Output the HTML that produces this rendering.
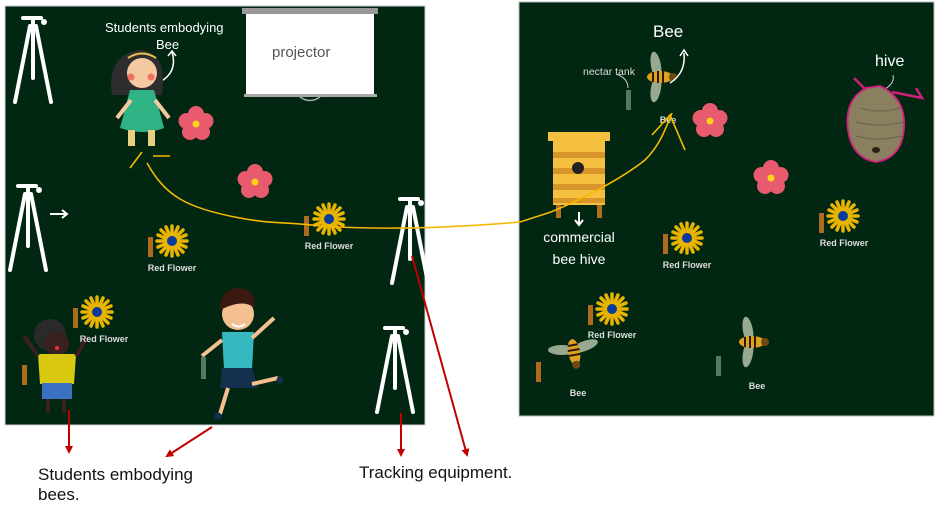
<!DOCTYPE html>
<html><head><meta charset="utf-8"><style>
html,body{margin:0;padding:0;background:#fff;}
svg{display:block;}
text{font-family:"Liberation Sans",sans-serif;}
</style></head><body>
<svg width="936" height="508" viewBox="0 0 936 508" xmlns="http://www.w3.org/2000/svg">
<defs>
<g id="tripod" stroke="#fff" stroke-width="4" fill="none" stroke-linecap="round">
  <line x1="-10" y1="0" x2="8" y2="0"/>
  <line x1="0" y1="0" x2="0" y2="60"/>
  <line x1="-3" y1="8" x2="-18" y2="84"/>
  <line x1="3" y1="8" x2="18" y2="84"/>
  <circle cx="11" cy="4" r="3" fill="#fff" stroke="none"/>
</g>
<g id="pink">
  <g fill="#e85a6e">
    <circle cx="0" cy="-10" r="8"/><circle cx="9.5" cy="-3" r="8"/><circle cx="6" cy="8" r="8"/><circle cx="-6" cy="8" r="8"/><circle cx="-9.5" cy="-3" r="8"/>
  </g>
  <circle r="3.5" fill="#ffd21a"/>
</g>
<g id="yel">
  <g stroke="#e8b400" stroke-width="3.5" stroke-linecap="round">
    <line x1="0" y1="-15" x2="0" y2="15"/><line x1="-15" y1="0" x2="15" y2="0"/>
    <line x1="-11" y1="-11" x2="11" y2="11"/><line x1="-11" y1="11" x2="11" y2="-11"/>
    <line x1="-6" y1="-14" x2="6" y2="14"/><line x1="6" y1="-14" x2="-6" y2="14"/>
    <line x1="-14" y1="-6" x2="14" y2="6"/><line x1="-14" y1="6" x2="14" y2="-6"/>
  </g>
  <circle r="5" fill="#0a3a9a"/>
</g>
<g id="bee">
  <ellipse cx="-2" cy="-12" rx="5" ry="14" fill="#a9b8a0" opacity="0.9" transform="rotate(-10)"/>
  <ellipse cx="-2" cy="12" rx="5" ry="14" fill="#a9b8a0" opacity="0.9" transform="rotate(10)"/>
  <ellipse cx="0" cy="0" rx="13" ry="6" fill="#e0a020"/>
  <g stroke="#2a1a05" stroke-width="2"><line x1="-7" y1="-5" x2="-7" y2="5"/><line x1="-2" y1="-6" x2="-2" y2="6"/><line x1="3" y1="-6" x2="3" y2="6"/></g>
  <circle cx="13" cy="0" r="4" fill="#6a4a10"/>
</g>
<marker id="ar" markerWidth="8" markerHeight="8" refX="6" refY="4" orient="auto" markerUnits="userSpaceOnUse"><path d="M0,0 L8,4 L0,8z" fill="#c00000"/></marker>
</defs>

<rect x="5" y="6" width="420" height="419" fill="#012712" stroke="#ccc" stroke-width="1"/>
<rect x="519" y="2" width="415" height="414" fill="#012712" stroke="#bbb" stroke-width="1"/>

<use href="#tripod" x="33" y="18"/>
<use href="#tripod" x="28" y="186"/>
<use href="#tripod" x="410" y="199"/>
<use href="#tripod" x="395" y="328"/>
<path d="M50 214 H66 M62 210 L67 214 L62 218" stroke="#fff" stroke-width="2" fill="none"/>

<rect x="242" y="8" width="136" height="6" fill="#999"/>
<rect x="246" y="14" width="128" height="80" fill="#fff"/>
<rect x="244" y="94" width="133" height="3" fill="#aaa"/>
<path d="M300 97 q10 7 20 0" stroke="#aaa" fill="none" stroke-width="1.5"/>
<text x="272" y="57" font-size="15" fill="#555">projector</text>

<text x="105" y="32" font-size="13" fill="#fff">Students embodying</text>
<text x="156" y="49" font-size="13" fill="#fff">Bee</text>
<path d="M160 82 q18 -10 12 -30" stroke="#fff" stroke-width="1.5" fill="none"/>
<path d="M168 56 l4 -5 l4 5" stroke="#fff" stroke-width="1.5" fill="none"/>

<path d="M112 95 q-6 -40 28 -45 q28 2 22 45 z" fill="#2d2d2d"/>
<circle cx="142" cy="73" r="15" fill="#f4c9a0"/>
<circle cx="131" cy="77" r="3.5" fill="#f07060"/><circle cx="151" cy="77" r="3.5" fill="#f07060"/>
<path d="M128 58 q14 -9 28 0" stroke="#e8c050" stroke-width="2" fill="none"/>
<path d="M130 90 h24 l10 38 q-20 8 -44 0 z" fill="#2fb385"/>
<rect x="128" y="130" width="7" height="16" fill="#e8d080"/><rect x="148" y="130" width="7" height="16" fill="#e8d080"/>
<path d="M131 100 l-14 18 M155 100 l14 18" stroke="#f4c9a0" stroke-width="4"/>

<circle cx="238" cy="314" r="16" fill="#f4c090"/>
<path d="M220 310 q0 -22 20 -22 q18 2 14 20 q-10 -10 -34 2z" fill="#3a1a10"/>
<path d="M232 324 q7 5 13 0" stroke="#fff" stroke-width="2" fill="none"/>
<path d="M222 332 h32 l-2 38 h-28 z" fill="#35b8c0"/>
<path d="M222 368 h30 l6 20 h-38 z" fill="#14304e"/>
<path d="M222 340 l-20 16 M252 338 l22 -20" stroke="#f4c090" stroke-width="4"/>
<path d="M228 388 l-8 26 M252 384 l26 -6" stroke="#f4c090" stroke-width="4"/>
<circle cx="218" cy="416" r="3.5" fill="#14304e"/><circle cx="280" cy="380" r="3.5" fill="#14304e"/>

<circle cx="50" cy="335" r="16" fill="#2a2a2a"/>
<circle cx="57" cy="344" r="12" fill="#3a2020"/>
<circle cx="57" cy="348" r="2" fill="#f03030"/>
<path d="M38 354 h38 l-2 30 h-34 z" fill="#d8c810"/>
<rect x="42" y="383" width="30" height="16" fill="#3a70c0"/>
<path d="M38 356 l-14 -20 M76 356 l12 -20" stroke="#3a2020" stroke-width="4"/>
<path d="M48 399 v14 M64 399 v14" stroke="#3a2020" stroke-width="4"/>

<use href="#pink" x="196" y="124"/>
<use href="#pink" x="255" y="182"/>
<use href="#pink" x="710" y="121"/>
<use href="#pink" x="771" y="178"/>

<g font-size="9" font-weight="bold" fill="#ddd" text-anchor="middle">
<use href="#yel" x="329" y="219"/><rect x="304" y="216" width="5" height="20" fill="#b06a20"/><text x="329" y="249">Red Flower</text>
<use href="#yel" x="172" y="241"/><rect x="148" y="237" width="5" height="20" fill="#b06a20"/><text x="172" y="271">Red Flower</text>
<use href="#yel" x="97" y="312"/><rect x="73" y="308" width="5" height="20" fill="#b06a20"/><text x="104" y="342">Red Flower</text>
<use href="#yel" x="687" y="238"/><rect x="663" y="234" width="5" height="20" fill="#b06a20"/><text x="687" y="268">Red Flower</text>
<use href="#yel" x="843" y="216"/><rect x="819" y="213" width="5" height="20" fill="#b06a20"/><text x="844" y="246">Red Flower</text>
<use href="#yel" x="612" y="309"/><rect x="588" y="305" width="5" height="20" fill="#b06a20"/><text x="612" y="338">Red Flower</text>
<text x="578" y="396">Bee</text><text x="757" y="389">Bee</text><text x="668" y="123">Bee</text>
</g>
<rect x="536" y="362" width="5" height="20" fill="#b06a20"/>
<rect x="22" y="365" width="5" height="20" fill="#b06a20"/>
<rect x="716" y="356" width="5" height="20" fill="#557a60"/>
<rect x="201" y="357" width="5" height="22" fill="#557a60"/>
<rect x="626" y="90" width="5" height="20" fill="#557a60"/>

<use href="#bee" x="660" y="77"/>
<use href="#bee" transform="translate(574,352) rotate(80)"/>
<use href="#bee" x="752" y="342"/>

<text x="653" y="37" font-size="17" fill="#fff">Bee</text>
<path d="M670 83 q16 -10 14 -30" stroke="#fff" stroke-width="1.5" fill="none"/>
<path d="M680 56 l4 -6 l4 6" stroke="#fff" stroke-width="1.5" fill="none"/>
<text x="583" y="75" font-size="10.5" fill="#ddd">nectar tank</text>
<path d="M628 88 q0 -10 -12 -14" stroke="#ccc" fill="none"/>
<text x="875" y="66" font-size="16" fill="#fff">hive</text>
<path d="M885 89 q10 -6 8 -14" stroke="#ccc" fill="none"/>

<path d="M866 88 q-22 12 -18 42 q4 28 28 32 q26 -4 28 -34 q2 -30 -24 -42 z" fill="#8a8060" stroke="#d0207a" stroke-width="1.8"/>
<path d="M866 90 l-12 -12 M892 92 l30 6 l-6 -10" stroke="#d0207a" stroke-width="2.5" fill="none"/>
<path d="M860 108 q20 6 40 0 M856 122 q24 6 48 0 M856 136 q22 6 46 0" stroke="#6f6548" stroke-width="1.2" fill="none"/>
<ellipse cx="876" cy="150" rx="4" ry="3" fill="#2a2010"/>

<rect x="548" y="132" width="62" height="9" fill="#f5c040"/>
<rect x="553" y="141" width="52" height="64" fill="#f5c040"/>
<g fill="#d8952a"><rect x="553" y="152" width="52" height="6"/><rect x="553" y="168" width="52" height="6"/><rect x="553" y="184" width="52" height="6"/><rect x="553" y="198" width="52" height="5"/></g>
<circle cx="578" cy="168" r="6" fill="#222"/>
<rect x="556" y="205" width="5" height="13" fill="#b07020"/><rect x="597" y="205" width="5" height="13" fill="#b07020"/>
<path d="M579 212 v12 M575 220 l4 5 l4 -5" stroke="#fff" stroke-width="2" fill="none"/>
<text x="579" y="242" font-size="14" fill="#fff" text-anchor="middle">commercial</text>
<text x="579" y="264" font-size="14" fill="#fff" text-anchor="middle">bee hive</text>

<path d="M147 163 C165 195 185 208 240 218 C270 224 290 222 320 226 C380 230 450 228 520 222 L551 212 C580 200 620 180 645 160 C660 145 665 130 672 113" stroke="#f5b800" stroke-width="1.6" fill="none"/>
<path d="M130 168 L142 152 M153 156 L170 156 M652 135 L670 115 L685 150" stroke="#f5b800" stroke-width="1.6" fill="none"/>

<g stroke="#c00000" stroke-width="2" fill="none">
<line x1="69" y1="410" x2="69" y2="452" marker-end="url(#ar)"/>
<line x1="212" y1="427" x2="167" y2="456" marker-end="url(#ar)"/>
<line x1="401" y1="413" x2="401" y2="455" marker-end="url(#ar)"/>
<line x1="412" y1="256" x2="467" y2="455" marker-end="url(#ar)"/>
</g>

<text x="38" y="480" font-size="17" fill="#111">Students embodying</text>
<text x="38" y="500" font-size="17" fill="#111">bees.</text>
<text x="359" y="478" font-size="17" fill="#111">Tracking equipment.</text>
</svg>
</body></html>
